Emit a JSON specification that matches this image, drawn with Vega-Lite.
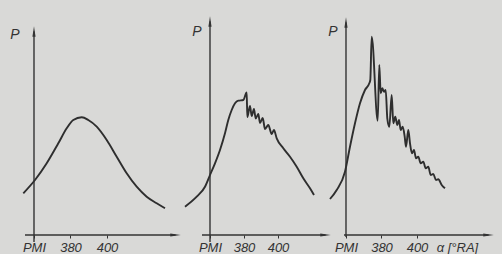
{
  "$schema": "https://vega.github.io/schema/vega-lite/v6.json",
  "background": "#d9d9d7",
  "padding": 0,
  "spacing": 0,
  "bounds": "flush",
  "config": {"view": {"stroke": null}},
  "datasets": {
    "c1": [
      {"x": 354.14, "y": 41.7}, {"x": 360.55, "y": 55}, {"x": 366.96, "y": 71.7}, {"x": 373.32, "y": 91.7},
      {"x": 377.92, "y": 106.7}, {"x": 381.53, "y": 115}, {"x": 386.14, "y": 117.7}, {"x": 389.75, "y": 115},
      {"x": 394.36, "y": 108.3}, {"x": 399.84, "y": 95}, {"x": 405.32, "y": 78.3}, {"x": 410.79, "y": 61.7},
      {"x": 416.27, "y": 48.3}, {"x": 421.75, "y": 38.3}, {"x": 427.23, "y": 31.7}, {"x": 431.78, "y": 26.7}
    ],
    "c2": [
      {"x": 345.29, "y": 28.3}, {"x": 352.18, "y": 38.3}, {"x": 357.06, "y": 48.3}, {"x": 360, "y": 60},
      {"x": 362.94, "y": 71.7}, {"x": 365.88, "y": 85}, {"x": 368.82, "y": 101.7}, {"x": 370.76, "y": 115},
      {"x": 372.76, "y": 125}, {"x": 374.71, "y": 131.7}, {"x": 376.65, "y": 134.3}, {"x": 379.59, "y": 135},
      {"x": 381.59, "y": 142.5}, {"x": 381.94, "y": 118}, {"x": 383.53, "y": 129}, {"x": 384.53, "y": 119},
      {"x": 385.88, "y": 126}, {"x": 386.88, "y": 116.5}, {"x": 388.41, "y": 121}, {"x": 389.41, "y": 112},
      {"x": 391.0, "y": 117}, {"x": 392.35, "y": 106}, {"x": 394.3, "y": 110}, {"x": 396.29, "y": 101},
      {"x": 397.6, "y": 105}, {"x": 399.24, "y": 96.7}, {"x": 403.12, "y": 86.7}, {"x": 407.06, "y": 78.3},
      {"x": 411.0, "y": 68.3}, {"x": 414.88, "y": 56.7}, {"x": 418.82, "y": 46.7}, {"x": 421.18, "y": 40}
    ],
    "c3": [
      {"x": 350.99, "y": 36}, {"x": 354.76, "y": 45}, {"x": 359.44, "y": 63.3}, {"x": 362.25, "y": 88.3},
      {"x": 365.07, "y": 111.7}, {"x": 367.89, "y": 131.7}, {"x": 370.7, "y": 145}, {"x": 373.13, "y": 151.7},
      {"x": 373.69, "y": 155}, {"x": 374.48, "y": 198.3}, {"x": 377.86, "y": 114.3}, {"x": 378.76, "y": 170},
      {"x": 379.55, "y": 141.7}, {"x": 380.45, "y": 146.7}, {"x": 381.41, "y": 143.3}, {"x": 382.37, "y": 145},
      {"x": 383.27, "y": 116.7}, {"x": 384.39, "y": 108.3}, {"x": 385.75, "y": 140}, {"x": 386.65, "y": 111.7},
      {"x": 387.77, "y": 118.3}, {"x": 388.9, "y": 110}, {"x": 389.86, "y": 115}, {"x": 390.82, "y": 105},
      {"x": 391.94, "y": 108.3}, {"x": 393.07, "y": 98.3}, {"x": 393.8, "y": 88.3}, {"x": 395.1, "y": 105},
      {"x": 396.06, "y": 91.7}, {"x": 397.18, "y": 81.7}, {"x": 398.31, "y": 85}, {"x": 399.44, "y": 76.7},
      {"x": 400.73, "y": 78.3}, {"x": 402.08, "y": 71.7}, {"x": 403.55, "y": 73.3}, {"x": 404.9, "y": 66.7},
      {"x": 406.37, "y": 68.3}, {"x": 407.72, "y": 60}, {"x": 409.18, "y": 61}, {"x": 410.7, "y": 55},
      {"x": 412.0, "y": 55.7}, {"x": 413.92, "y": 50}, {"x": 415.77, "y": 46.7}
    ],
    "r1": [{"x": 355.07, "x2": 437.53, "y": 0, "y2": 0}, {"x": 360, "x2": 360, "y": -7, "y2": 203.5}],
    "r2": [{"x": 355.29, "x2": 427.94, "y": 0, "y2": 0}, {"x": 360, "x2": 360, "y": -7, "y2": 213.5}],
    "r3": [{"x": 358.87, "x2": 440.28, "y": 0, "y2": 0}, {"x": 360, "x2": 360, "y": -2, "y2": 212.5}],
    "h1": [{"x": 437.53, "y": 0, "dir": "right"}, {"x": 360, "y": 203.5, "dir": "up"}],
    "h2": [{"x": 427.94, "y": 0, "dir": "right"}, {"x": 360, "y": 213.5, "dir": "up"}],
    "h3": [{"x": 440.28, "y": 0, "dir": "right"}, {"x": 360, "y": 212.5, "dir": "up"}],
    "p1": [{"x": 349.6, "y": 200, "t": "P"}],
    "p2": [{"x": 352.35, "y": 203, "t": "P"}],
    "p3": [{"x": 352.68, "y": 203, "t": "P"}]
  },
  "hconcat": [
    {
      "width": 182, "height": 235,
      "encoding": {
        "x": {"field": "x", "type": "quantitative", "scale": {"domain": [341.37, 441.1], "nice": false, "zero": false},
          "axis": {"values": [360, 380, 400], "labelExpr": "datum.value == 360 ? 'PMI' : datum.label", "domain": false, "grid": false, "title": null, "tickSize": 3, "tickColor": "#333", "tickWidth": 1, "labelFont": "Liberation Sans", "labelFontStyle": "italic", "labelFontSize": 13, "labelColor": "#333", "labelPadding": 3, "labelOverlap": false, "labelFlush": false}},
        "y": {"field": "y", "type": "quantitative", "scale": {"domain": [0, 235], "nice": false, "zero": false}, "axis": null}
      },
      "layer": [
        {"data": {"name": "r1"}, "mark": {"type": "rule", "color": "#333", "strokeWidth": 1.4}, "encoding": {"x2": {"field": "x2"}, "y2": {"field": "y2"}}},
        {"data": {"name": "h1"}, "mark": {"type": "point", "filled": true, "size": 110, "color": "#333", "opacity": 1}, "encoding": {"shape": {"field": "dir", "type": "nominal", "scale": {"domain": ["right", "up"], "range": ["M1,0L-1,-0.3L-1,0.3Z", "M0,-1L-0.3,1L0.3,1Z"]}, "legend": null}}},
        {"data": {"name": "c1"}, "mark": {"type": "line", "color": "#2e2e2e", "strokeWidth": 1.9, "interpolate": "monotone"}},
        {"data": {"name": "p1"}, "mark": {"type": "text", "font": "Liberation Sans", "fontStyle": "italic", "fontSize": 14, "color": "#333"}, "encoding": {"text": {"field": "t"}}}
      ]
    },
    {
      "width": 154, "height": 235,
      "encoding": {
        "x": {"field": "x", "type": "quantitative", "scale": {"domain": [343.53, 434.12], "nice": false, "zero": false},
          "axis": {"values": [360, 380, 400], "labelExpr": "datum.value == 360 ? 'PMI' : datum.label", "domain": false, "grid": false, "title": null, "tickSize": 3, "tickColor": "#333", "tickWidth": 1, "labelFont": "Liberation Sans", "labelFontStyle": "italic", "labelFontSize": 13, "labelColor": "#333", "labelPadding": 3, "labelOverlap": false, "labelFlush": false}},
        "y": {"field": "y", "type": "quantitative", "scale": {"domain": [0, 235], "nice": false, "zero": false}, "axis": null}
      },
      "layer": [
        {"data": {"name": "r2"}, "mark": {"type": "rule", "color": "#333", "strokeWidth": 1.4}, "encoding": {"x2": {"field": "x2"}, "y2": {"field": "y2"}}},
        {"data": {"name": "h2"}, "mark": {"type": "point", "filled": true, "size": 110, "color": "#333", "opacity": 1}, "encoding": {"shape": {"field": "dir", "type": "nominal", "scale": {"domain": ["right", "up"], "range": ["M1,0L-1,-0.3L-1,0.3Z", "M0,-1L-0.3,1L0.3,1Z"]}, "legend": null}}},
        {"data": {"name": "c2"}, "mark": {"type": "line", "color": "#2e2e2e", "strokeWidth": 1.9, "interpolate": "monotone"}},
        {"data": {"name": "p2"}, "mark": {"type": "text", "font": "Liberation Sans", "fontStyle": "italic", "fontSize": 14, "color": "#333"}, "encoding": {"text": {"field": "t"}}}
      ]
    },
    {
      "width": 166, "height": 235,
      "encoding": {
        "x": {"field": "x", "type": "quantitative", "scale": {"domain": [354.37, 447.89], "nice": false, "zero": false},
          "axis": {"values": [360, 380, 400, 422.5], "labelExpr": "datum.value == 360 ? 'PMI' : datum.value > 410 ? 'α [°RA]' : datum.label", "domain": false, "grid": false, "title": null, "tickSize": 3, "tickColor": "#333", "tickWidth": 1, "tickOpacity": {"condition": {"test": "datum.value > 410", "value": 0}, "value": 1}, "labelFont": "Liberation Sans", "labelFontStyle": "italic", "labelFontSize": 13, "labelColor": "#333", "labelPadding": 3, "labelOverlap": false, "labelFlush": false}},
        "y": {"field": "y", "type": "quantitative", "scale": {"domain": [0, 235], "nice": false, "zero": false}, "axis": null}
      },
      "layer": [
        {"data": {"name": "r3"}, "mark": {"type": "rule", "color": "#333", "strokeWidth": 1.4}, "encoding": {"x2": {"field": "x2"}, "y2": {"field": "y2"}}},
        {"data": {"name": "h3"}, "mark": {"type": "point", "filled": true, "size": 110, "color": "#333", "opacity": 1}, "encoding": {"shape": {"field": "dir", "type": "nominal", "scale": {"domain": ["right", "up"], "range": ["M1,0L-1,-0.3L-1,0.3Z", "M0,-1L-0.3,1L0.3,1Z"]}, "legend": null}}},
        {"data": {"name": "c3"}, "mark": {"type": "line", "color": "#2e2e2e", "strokeWidth": 1.9, "interpolate": "monotone"}},
        {"data": {"name": "p3"}, "mark": {"type": "text", "font": "Liberation Sans", "fontStyle": "italic", "fontSize": 14, "color": "#333"}, "encoding": {"text": {"field": "t"}}}
      ]
    }
  ]
}
